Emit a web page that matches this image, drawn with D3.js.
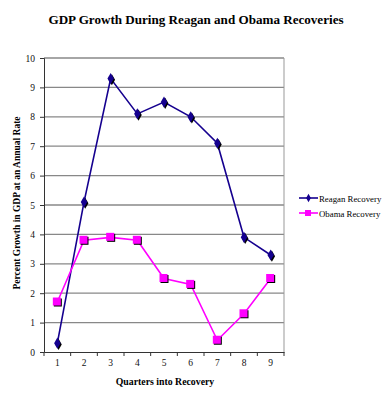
<!DOCTYPE html>
<html><head><meta charset="utf-8">
<script src="https://cdn.jsdelivr.net/npm/d3@7"></script>
<style>body{margin:0;background:#fff}svg{display:block}svg text{font-family:"Liberation Serif","Times New Roman",serif}</style>
</head><body><svg id="c" width="392" height="400"></svg>
<script>
const quarters = ["1","2","3","4","5","6","7","8","9"];
const reagan = [0.3,5.1,9.3,8.1,8.5,8.0,7.1,3.9,3.3];
const obama = [1.7,3.8,3.9,3.8,2.5,2.3,0.4,1.3,2.5];
const yTicks = [0,1,2,3,4,5,6,7,8,9,10];
const seriesNames = ["Reagan Recovery","Obama Recovery"];

const svg = d3.select("#c");
const L=44,R=284,T=58,B=352;
const x = d3.scaleBand().domain(quarters).range([L,R]);
const y = d3.scaleLinear().domain([0,10]).range([B,T]);

svg.append("text").attr("x",196).attr("y",24).attr("text-anchor","middle")
  .attr("font-size",13.1).attr("font-weight","bold").text("GDP Growth During Reagan and Obama Recoveries");

// gridlines
svg.append("g").selectAll("line").data(yTicks.slice(1)).join("line")
  .attr("x1",L).attr("x2",R).attr("y1",d=>y(d)).attr("y2",d=>y(d))
  .attr("stroke","#888").attr("stroke-width",1.3);
// right border
svg.append("line").attr("x1",R).attr("x2",R).attr("y1",T).attr("y2",B).attr("stroke","#999").attr("stroke-width",1);

// y axis
const ya = svg.append("g").attr("transform",`translate(${L},0)`)
  .call(d3.axisLeft(y).tickValues(yTicks).tickFormat(d3.format("d")).tickSize(4));
ya.select(".domain").attr("stroke","#333");
ya.selectAll(".tick line").attr("stroke","#333");
ya.selectAll("text").attr("font-size",9.5).attr("fill","#111").attr("dx",-2);

// x axis
const xa = svg.append("g").attr("transform",`translate(0,${B})`)
  .call(d3.axisBottom(x).tickSize(0).tickSizeOuter(0));
xa.select(".domain").attr("stroke","#333");
xa.selectAll("text").attr("font-size",9.5).attr("fill","#111").attr("dy","1.2em");
xa.selectAll(".tick line").remove();
// tick marks at band boundaries
svg.append("g").selectAll("line").data(d3.range(quarters.length+1)).join("line")
  .attr("x1",i=>L+i*x.step()).attr("x2",i=>L+i*x.step()).attr("y1",B).attr("y2",B+4).attr("stroke","#333");

svg.append("text").attr("x",165).attr("y",385).attr("text-anchor","middle").attr("font-size",9.8).attr("font-weight","bold").text("Quarters into Recovery");
svg.append("text").attr("transform","translate(20,203) rotate(-90)").attr("text-anchor","middle").attr("font-size",9.5).attr("font-weight","bold").text("Percent Growth in GDP at an Annual Rate");

const cx = d=>x(d)+x.bandwidth()/2;
const line = d3.line().x((d,i)=>cx(quarters[i])).y(d=>y(d));
const navy="#15008f", mag="#ff00ff";

svg.append("path").datum(reagan).attr("d",line).attr("fill","none").attr("stroke",navy).attr("stroke-width",1.6);
svg.append("path").datum(obama).attr("d",line).attr("fill","none").attr("stroke",mag).attr("stroke-width",1.6);

const diamond = d3.symbol().type(d3.symbolDiamond).size(36);
const g1 = svg.append("g");
g1.selectAll("path.s").data(reagan).join("path").attr("class","s").attr("d",diamond)
  .attr("transform",(d,i)=>`translate(${cx(quarters[i])+1.2},${y(d)+1.2})`).attr("fill","#000");
g1.selectAll("path.m").data(reagan).join("path").attr("class","m").attr("d",diamond)
  .attr("transform",(d,i)=>`translate(${cx(quarters[i])},${y(d)})`).attr("fill",navy);

const g2 = svg.append("g");
g2.selectAll("rect.s").data(obama).join("rect").attr("class","s")
  .attr("x",(d,i)=>cx(quarters[i])-3.5).attr("y",d=>y(d)-3.5).attr("width",8).attr("height",8).attr("fill","#000");
g2.selectAll("rect.m").data(obama).join("rect").attr("class","m")
  .attr("x",(d,i)=>cx(quarters[i])-4.5).attr("y",d=>y(d)-4.5).attr("width",8).attr("height",8).attr("fill",mag);

// legend
const leg = svg.append("g");
const lc=[navy,mag];
seriesNames.forEach((n,i)=>{
  const ly = 198 + i*15;
  leg.append("line").attr("x1",299).attr("x2",318).attr("y1",ly).attr("y2",ly).attr("stroke",lc[i]).attr("stroke-width",1.6);
  if(i===0) leg.append("path").attr("d",d3.symbol().type(d3.symbolDiamond).size(20)).attr("transform",`translate(308.5,${ly})`).attr("fill",navy);
  else leg.append("rect").attr("x",305).attr("y",ly-3).attr("width",6).attr("height",6).attr("fill",mag);
  leg.append("text").attr("x",319).attr("y",ly+3.5).attr("font-size",8.8).text(n);
});
</script></body></html>
